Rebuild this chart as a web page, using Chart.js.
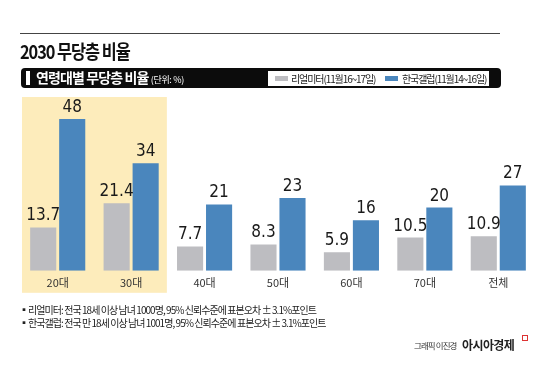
<!DOCTYPE html>
<html><head><meta charset="utf-8">
<script src="https://cdn.jsdelivr.net/npm/chart.js@4"></script>
<style>
html,body{margin:0;padding:0;background:#fff;}
#wrap{position:relative;width:550px;height:368px;overflow:hidden;font-family:"Noto Sans CJK KR","Noto Sans",sans-serif;}
#c{position:absolute;left:0;top:0;}
.abs{position:absolute;white-space:nowrap;}
</style></head>
<body>
<div id="wrap">
<canvas id="c" width="550" height="368"></canvas>
<div class="abs" style="left:20px;top:33px;width:480px;height:1px;background:#444;"></div>
<div class="abs" style="left:20px;top:37px;font-size:19px;font-weight:bold;color:#111;letter-spacing:-1.2px;transform:scaleX(0.86);transform-origin:left top;">2030 무당층 비율</div>
<div class="abs" style="left:21px;top:68px;width:480px;height:20px;background:#0c0c0c;border-radius:4px;"></div>
<div class="abs" style="left:26px;top:71px;width:4px;height:14px;background:#fff;"></div>
<div class="abs" style="left:36px;top:67px;font-size:14px;font-weight:bold;color:#fff;letter-spacing:-0.9px;line-height:21px;">연령대별 무당층 비율 <span style="font-size:9px;font-weight:normal;letter-spacing:-0.3px;">(단위: %)</span></div>
<div class="abs" style="left:268px;top:71px;width:221px;height:15px;background:#fff;"></div>
<div class="abs" style="left:275px;top:76px;width:13px;height:5px;background:#bdbdc1;"></div>
<div class="abs" style="left:291px;top:71px;font-size:10px;color:#222;letter-spacing:-1.1px;line-height:15px;">리얼미터(11월16~17일)</div>
<div class="abs" style="left:385px;top:76px;width:13px;height:5px;background:#4a86bd;"></div>
<div class="abs" style="left:402px;top:71px;font-size:10px;color:#222;letter-spacing:-1.1px;line-height:15px;">한국갤럽(11월14~16일)</div>
<div class="abs" style="left:19px;top:303px;font-size:10px;color:#222;letter-spacing:-0.95px;line-height:13px;">▪리얼미터: 전국 18세 이상 남녀 1000명, 95% 신뢰수준에 표본오차 ± 3.1%포인트<br>▪한국갤럽: 전국 만 18세 이상 남녀 1001명, 95% 신뢰수준에 표본오차 ± 3.1%포인트</div>
<div class="abs" style="left:414px;top:339px;font-size:8.5px;color:#333;letter-spacing:-0.9px;">그래픽 이진경</div>
<div class="abs" style="left:462px;top:336px;font-size:12px;font-weight:bold;color:#222;letter-spacing:-0.6px;">아시아경제</div>
<div class="abs" style="left:522px;top:335px;width:4px;height:4px;border:1px solid #d33;"></div>
</div>
<script>
const categories = ["20대","30대","40대","50대","60대","70대","전체"];
const realmeter = [13.7,21.4,7.7,8.3,5.9,10.5,10.9];
const gallup = [48,34,21,23,16,20,27];
const seriesNames = ["리얼미터(11월16~17일)","한국갤럽(11월14~16일)"];

const highlight = {
  id:'highlight',
  beforeDraw(chart){
    const x = chart.scales.x, ctx = chart.ctx, a = chart.chartArea;
    const w = x.getPixelForValue(1) - x.getPixelForValue(0);
    const l = x.getPixelForValue(0) - w/2 + 1, r = x.getPixelForValue(1) + w/2 - 1;
    ctx.save(); ctx.fillStyle = '#fdecbb';
    ctx.fillRect(l, a.top, r-l, a.bottom - a.top + 22);
    ctx.restore();
  }
};
const labels = {
  id:'labels',
  afterDatasetsDraw(chart){
    const ctx = chart.ctx;
    ctx.save();
    ctx.fillStyle = '#1a1a1a';
    ctx.font = '17px "DejaVu Sans Condensed","Liberation Sans Narrow","Noto Sans",sans-serif';
    ctx.textAlign = 'center'; ctx.textBaseline = 'bottom';
    chart.data.datasets.forEach((ds,i)=>{
      chart.getDatasetMeta(i).data.forEach((bar,j)=>{
        ctx.fillText(String(ds.data[j]), bar.x, bar.y - 3);
      });
    });
    ctx.restore();
  }
};
new Chart(document.getElementById('c'),{
  type:'bar',
  data:{labels:categories,datasets:[
    {label:seriesNames[0],data:realmeter,backgroundColor:'#bdbdc1',categoryPercentage:0.79,barPercentage:0.9},
    {label:seriesNames[1],data:gallup,backgroundColor:'#4a86bd',categoryPercentage:0.79,barPercentage:0.9}
  ]},
  options:{
    responsive:false,animation:false,
    layout:{padding:{left:21,right:15,top:97,bottom:74}},
    plugins:{legend:{display:false},tooltip:{enabled:false}},
    scales:{
      x:{grid:{display:false,drawTicks:false},border:{display:false},ticks:{color:'#333',font:{size:11,family:'"Noto Sans CJK KR"'},padding:5}},
      y:{display:false,min:0,max:55}
    }
  },
  plugins:[highlight,labels]
});
</script>
</body></html>
